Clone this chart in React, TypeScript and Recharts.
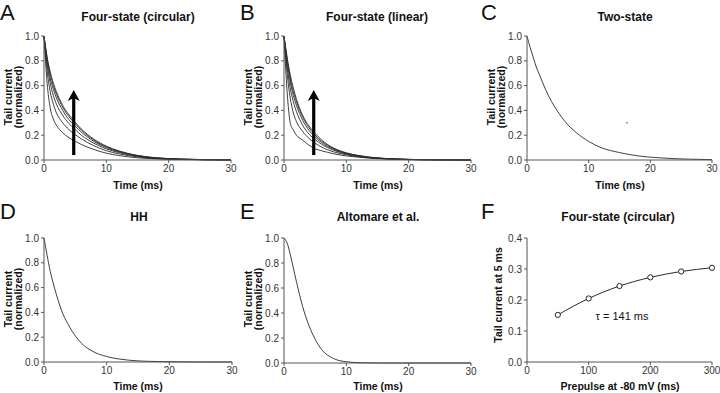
import { LineChart, Line, XAxis, YAxis, ReferenceLine, ReferenceDot } from 'recharts';

// sample times (ms) for the tail current traces
const timeMs = [0, 0.5, 1, 1.5, 2, 3, 4, 5, 6, 8, 10, 12, 15, 18, 22, 26, 30];

// A: four-state (circular), one trace per prepulse duration
const circ50 = [1, 0.62, 0.42, 0.33, 0.28, 0.22, 0.18, 0.152, 0.125, 0.085, 0.055, 0.036, 0.018, 0.009, 0.004, 0.002, 0.001];
const circ100 = [1, 0.72, 0.55, 0.45, 0.38, 0.3, 0.245, 0.205, 0.17, 0.115, 0.075, 0.05, 0.025, 0.012, 0.005, 0.002, 0.001];
const circ150 = [1, 0.77, 0.62, 0.52, 0.45, 0.36, 0.295, 0.245, 0.2, 0.135, 0.09, 0.06, 0.03, 0.014, 0.006, 0.002, 0.001];
const circ200 = [1, 0.8, 0.66, 0.57, 0.5, 0.4, 0.325, 0.272, 0.225, 0.15, 0.1, 0.066, 0.033, 0.016, 0.006, 0.003, 0.001];
const circ250 = [1, 0.82, 0.69, 0.6, 0.53, 0.425, 0.35, 0.292, 0.24, 0.16, 0.107, 0.07, 0.035, 0.017, 0.007, 0.003, 0.001];
const circ300 = [1, 0.83, 0.71, 0.62, 0.55, 0.44, 0.365, 0.305, 0.25, 0.168, 0.112, 0.074, 0.037, 0.018, 0.007, 0.003, 0.001];

// B: four-state (linear)
const lin50 = [1, 0.55, 0.3, 0.24, 0.2, 0.16, 0.12, 0.09, 0.075, 0.05, 0.033, 0.022, 0.011, 0.005, 0.002, 0.001, 0];
const lin100 = [1, 0.7, 0.5, 0.38, 0.31, 0.23, 0.175, 0.135, 0.105, 0.065, 0.042, 0.027, 0.013, 0.006, 0.002, 0.001, 0];
const lin150 = [1, 0.75, 0.58, 0.47, 0.39, 0.28, 0.21, 0.165, 0.128, 0.078, 0.048, 0.03, 0.014, 0.007, 0.003, 0.001, 0];
const lin200 = [1, 0.79, 0.63, 0.52, 0.44, 0.32, 0.24, 0.185, 0.142, 0.085, 0.052, 0.032, 0.015, 0.007, 0.003, 0.001, 0];
const lin250 = [1, 0.81, 0.66, 0.55, 0.47, 0.345, 0.26, 0.2, 0.153, 0.091, 0.055, 0.034, 0.016, 0.008, 0.003, 0.001, 0];
const lin300 = [1, 0.83, 0.69, 0.58, 0.49, 0.36, 0.275, 0.215, 0.163, 0.096, 0.058, 0.036, 0.017, 0.008, 0.003, 0.001, 0];

// C, D, E: single traces
const twoState = [1, 0.91, 0.83, 0.75, 0.69, 0.57, 0.47, 0.39, 0.32, 0.22, 0.15, 0.1, 0.06, 0.033, 0.016, 0.007, 0.003];
const hh = [1, 0.86, 0.73, 0.63, 0.54, 0.39, 0.29, 0.21, 0.15, 0.08, 0.044, 0.024, 0.009, 0.004, 0.001, 0, 0];
const altomare = [1, 0.96, 0.87, 0.76, 0.65, 0.45, 0.3, 0.19, 0.11, 0.035, 0.01, 0.003, 0, 0, 0, 0, 0];

// F: tail current at 5 ms vs prepulse duration
const prepulseMs = [50, 100, 150, 200, 250, 300];
const tailAt5 = [0.152, 0.205, 0.245, 0.273, 0.292, 0.304];

const traceXTicks = [0, 10, 20, 30];
const traceYTicks = [0, 0.2, 0.4, 0.6, 0.8, 1.0];
const fXTicks = [0, 100, 200, 300];
const fYTicks = [0, 0.1, 0.2, 0.3, 0.4];

const circRows = timeMs.map((t, i) => ({ t, a: circ50[i], b: circ100[i], c: circ150[i], d: circ200[i], e: circ250[i], f: circ300[i] }));
const linRows = timeMs.map((t, i) => ({ t, a: lin50[i], b: lin100[i], c: lin150[i], d: lin200[i], e: lin250[i], f: lin300[i] }));
const singleRows = timeMs.map((t, i) => ({ t, two: twoState[i], hh: hh[i], alt: altomare[i] }));
const fRows = prepulseMs.map((p, i) => ({ p, v: tailAt5[i] }));

const FONT = '"Liberation Sans", Arial, sans-serif';
const tickStyle = { fill: '#333', fontSize: 10, fontFamily: FONT };
const axisStroke = '#555';
const traceStroke = '#2a2a2a';

const Arrow = (p: any) => {
  const { x1, y1, y2 } = p;
  const top = Math.min(y1, y2);
  const bot = Math.max(y1, y2);
  return (
    <g>
      <line x1={x1} x2={x1} y1={bot} y2={top + 8} stroke="#000" strokeWidth={3.2} />
      <polygon points={`${x1},${top} ${x1 - 6},${top + 11} ${x1},${top + 8} ${x1 + 6},${top + 11}`} fill="#000" />
    </g>
  );
};

function TracePanel({ left, top, height, margin, yWidth, data, keys, arrow, children }: any) {
  return (
    <div style={{ position: 'absolute', left, top }}>
      <LineChart width={240} height={height} data={data} margin={margin}>
        <XAxis
          dataKey="t"
          type="number"
          domain={[0, 30]}
          ticks={traceXTicks}
          tick={tickStyle}
          tickSize={3}
          height={20}
          axisLine={{ stroke: axisStroke }}
          tickLine={{ stroke: axisStroke }}
        />
        <YAxis
          type="number"
          domain={[0, 1]}
          ticks={traceYTicks}
          tickFormatter={(v: number) => v.toFixed(1)}
          tick={tickStyle}
          tickSize={3}
          width={yWidth}
          axisLine={{ stroke: axisStroke }}
          tickLine={{ stroke: axisStroke }}
        />
        {keys.map((k: string) => (
          <Line key={k} dataKey={k} type="monotone" stroke={traceStroke} strokeWidth={0.9} dot={false} isAnimationActive={false} />
        ))}
        {arrow && <ReferenceLine segment={[{ x: 4.77, y: 0.04 }, { x: 4.77, y: 0.565 }]} shape={Arrow} />}
        {children}
      </LineChart>
    </div>
  );
}

export default function App() {
  const six = ['a', 'b', 'c', 'd', 'e', 'f'];
  return (
    <div style={{ position: 'absolute', left: 0, top: 0, width: 720, height: 393, background: '#fff', overflow: 'hidden' }}>
      <TracePanel left={0} top={0} height={200} margin={{ top: 36, right: 9, left: 0, bottom: 20 }} yWidth={44} data={circRows} keys={six} arrow />
      <TracePanel left={240} top={0} height={200} margin={{ top: 36, right: 9, left: 0, bottom: 20 }} yWidth={44} data={linRows} keys={six} arrow />
      <TracePanel left={480} top={0} height={200} margin={{ top: 36, right: 8, left: 0, bottom: 20 }} yWidth={47} data={singleRows} keys={['two']}>
        <ReferenceDot x={16.2} y={0.3} r={0.7} fill="#333" stroke="none" />
      </TracePanel>
      <TracePanel left={0} top={200} height={193} margin={{ top: 38, right: 8, left: 0, bottom: 11 }} yWidth={44} data={singleRows} keys={['hh']} />
      <TracePanel left={240} top={200} height={193} margin={{ top: 38, right: 9, left: 0, bottom: 10 }} yWidth={44} data={singleRows} keys={['alt']} />

      <div style={{ position: 'absolute', left: 480, top: 200 }}>
        <LineChart width={240} height={193} data={fRows} margin={{ top: 38, right: 8, left: 0, bottom: 11 }}>
          <XAxis
            dataKey="p"
            type="number"
            domain={[0, 300]}
            ticks={fXTicks}
            tick={tickStyle}
            tickSize={3}
            height={20}
            axisLine={{ stroke: axisStroke }}
            tickLine={{ stroke: axisStroke }}
          />
          <YAxis
            type="number"
            domain={[0, 0.4]}
            ticks={fYTicks}
            tickFormatter={(v: number) => v.toFixed(1)}
            tick={tickStyle}
            tickSize={3}
            width={47}
            axisLine={{ stroke: axisStroke }}
            tickLine={{ stroke: axisStroke }}
          />
          <Line
            dataKey="v"
            type="monotone"
            stroke={traceStroke}
            strokeWidth={1}
            dot={{ r: 2.6, fill: '#fff', stroke: '#222', strokeWidth: 1 }}
            isAnimationActive={false}
          />
        </LineChart>
      </div>

      <svg width={720} height={393} style={{ position: 'absolute', left: 0, top: 0, pointerEvents: 'none' }}>
        {/* panel letters */}
        <g style={{ fontFamily: FONT, fontSize: 22 }} fill="#111">
          <text x={0} y={20}>A</text>
          <text x={240} y={20}>B</text>
          <text x={481} y={20}>C</text>
          <text x={0} y={219}>D</text>
          <text x={240} y={219}>E</text>
          <text x={481} y={219}>F</text>
        </g>
        {/* titles */}
        <g style={{ fontFamily: FONT, fontSize: 12, fontWeight: 700 }} fill="#111" textAnchor="middle">
          <text x={138} y={21}>Four-state (circular)</text>
          <text x={377} y={21}>Four-state (linear)</text>
          <text x={625} y={21}>Two-state</text>
          <text x={139} y={221}>HH</text>
          <text x={378} y={221}>Altomare et al.</text>
          <text x={618} y={221}>Four-state (circular)</text>
        </g>
        {/* axis titles */}
        <g style={{ fontFamily: FONT, fontSize: 10.5, fontWeight: 700 }} fill="#111" textAnchor="middle">
          <text x={138} y={189}>Time (ms)</text>
          <text x={378} y={189}>Time (ms)</text>
          <text x={620} y={189}>Time (ms)</text>
          <text x={138} y={390}>Time (ms)</text>
          <text x={378} y={390}>Time (ms)</text>
          <text x={620} y={390}>Prepulse at -80 mV (ms)</text>
          {[0, 240, 483].map(dx => (
            <g key={`t${dx}`}>
              <text transform={`translate(${dx + 11.5},97) rotate(-90)`}>Tail current</text>
              <text transform={`translate(${dx + 21.5},97) rotate(-90)`}>(normalized)</text>
            </g>
          ))}
          {[0, 240].map(dx => (
            <g key={`b${dx}`}>
              <text transform={`translate(${dx + 11.5},299) rotate(-90)`}>Tail current</text>
              <text transform={`translate(${dx + 21.5},299) rotate(-90)`}>(normalized)</text>
            </g>
          ))}
          <text transform="translate(502,295) rotate(-90)">Tail current at 5 ms</text>
        </g>
        <text x={622} y={320} textAnchor="middle" style={{ fontFamily: FONT, fontSize: 11 }} fill="#111">τ = 141 ms</text>
      </svg>
    </div>
  );
}
